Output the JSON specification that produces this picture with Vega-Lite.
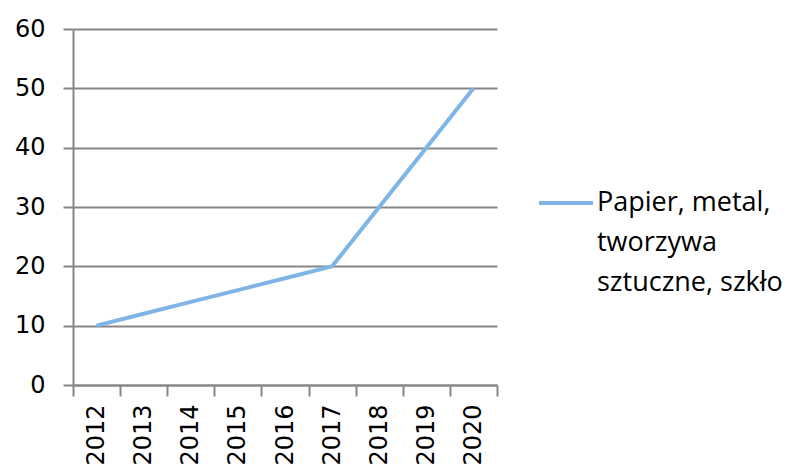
{
  "$schema": "https://vega.github.io/schema/vega-lite/v6.json",
  "width": 424,
  "height": 356,
  "autosize": {"type": "none"},
  "padding": {"left": 73, "top": 29, "right": 305, "bottom": 86},
  "background": "white",
  "config": {"view": {"stroke": null}},
  "data": {
    "values": [
      {"year": "2012", "value": 10, "series": "Papier, metal, tworzywa sztuczne, szkło"},
      {"year": "2013", "value": 12, "series": "Papier, metal, tworzywa sztuczne, szkło"},
      {"year": "2014", "value": 14, "series": "Papier, metal, tworzywa sztuczne, szkło"},
      {"year": "2015", "value": 16, "series": "Papier, metal, tworzywa sztuczne, szkło"},
      {"year": "2016", "value": 18, "series": "Papier, metal, tworzywa sztuczne, szkło"},
      {"year": "2017", "value": 20, "series": "Papier, metal, tworzywa sztuczne, szkło"},
      {"year": "2018", "value": 30, "series": "Papier, metal, tworzywa sztuczne, szkło"},
      {"year": "2019", "value": 40, "series": "Papier, metal, tworzywa sztuczne, szkło"},
      {"year": "2020", "value": 50, "series": "Papier, metal, tworzywa sztuczne, szkło"}
    ]
  },
  "mark": {"type": "line", "strokeWidth": 4},
  "encoding": {
    "x": {
      "field": "year",
      "type": "ordinal",
      "scale": {"type": "band", "paddingInner": 0, "paddingOuter": 0},
      "axis": {
        "title": null,
        "tickBand": "extent",
        "labelAngle": -90,
        "labelFont": "DejaVu Sans",
        "labelFontSize": 24,
        "labelColor": "black",
        "labelPadding": 8,
        "domainColor": "#868686",
        "domainWidth": 2,
        "tickColor": "#868686",
        "tickWidth": 2,
        "tickSize": 11,
        "grid": false
      }
    },
    "y": {
      "field": "value",
      "type": "quantitative",
      "scale": {"domain": [0, 60]},
      "axis": {
        "title": null,
        "values": [0, 10, 20, 30, 40, 50, 60],
        "labelFont": "DejaVu Sans",
        "labelFontSize": 24,
        "labelColor": "black",
        "labelPadding": 18,
        "domainColor": "#868686",
        "domainWidth": 2,
        "tickColor": "#868686",
        "tickWidth": 2,
        "tickSize": 10,
        "gridColor": "#868686",
        "gridWidth": 2
      }
    },
    "color": {
      "field": "series",
      "type": "nominal",
      "scale": {"range": ["#7fb5e4"]},
      "legend": {
        "title": null,
        "orient": "none",
        "legendX": 464,
        "legendY": 145,
        "padding": 0,
        "symbolType": "stroke",
        "symbolSize": 2916,
        "symbolStrokeWidth": 4,
        "labelFont": "Open Sans",
        "labelFontSize": 27,
        "labelColor": "black",
        "labelOffset": 2,
        "labelLimit": 400,
        "labelExpr": "['Papier, metal,', 'tworzywa', 'sztuczne, szkło']",
        "encode": {"labels": {"update": {"lineHeight": {"value": 40}}}}
      }
    }
  }
}
